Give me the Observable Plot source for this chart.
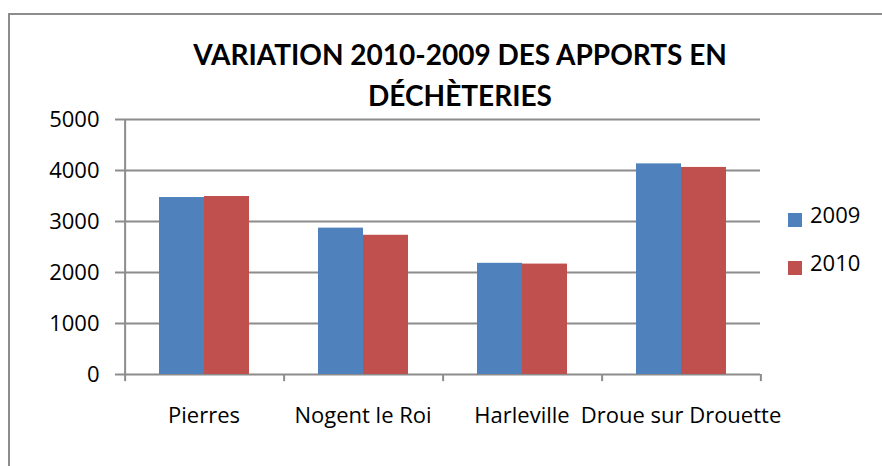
<!DOCTYPE html>
<html>
<head>
<meta charset="utf-8">
<script src="https://cdn.jsdelivr.net/npm/d3@7"></script>
<script src="https://cdn.jsdelivr.net/npm/@observablehq/plot@0.6"></script>
<style>
  html, body { margin: 0; padding: 0; background: #fff; }
  #wrap { position: relative; width: 882px; height: 466px; overflow: hidden; font-family: "Open Sans", Lato, sans-serif; }
  #frame { position: absolute; left: 8px; top: 13px; width: 900px; height: 500px; border: 2.5px solid #8c8c8c; box-sizing: border-box; }
  #chart { position: absolute; left: 0; top: 0; }
  #title { position: absolute; left: 160px; width: 600px; top: 34px; text-align: center; font-family: Lato, sans-serif; font-weight: bold; font-size: 28px; line-height: 41px; color: #000; }
  .leg { position: absolute; left: 788px; font-size: 22px; color: #000; }
  .leg span.sw { position: absolute; left: 0; width: 14px; height: 14px; }
  .leg span.lb { position: absolute; left: 22px; top: -14px; white-space: nowrap; }
</style>
</head>
<body>
<div id="wrap">
  <div id="frame"></div>
  <div id="chart"></div>
  <div id="title"></div>
  <div id="legend"></div>
</div>
<script>
const title = ["VARIATION 2010-2009 DES APPORTS EN", "DÉCHÈTERIES"];
const categories = ["Pierres", "Nogent le Roi", "Harleville", "Droue sur Drouette"];
const years = ["2009", "2010"];
const values2009 = [3470, 2870, 2180, 4130];
const values2010 = [3490, 2730, 2165, 4060];
const yTicks = [0, 1000, 2000, 3000, 4000, 5000];
const colors = ["#4F81BD", "#C0504D"];

const data = [];
categories.forEach((c, i) => {
  data.push({cat: c, year: years[0], value: values2009[i]});
  data.push({cat: c, year: years[1], value: values2010[i]});
});

const W = 882, H = 466;
const mL = 123, mR = 122, mT = 119, mB = 92;
const facetW = (W - mL - mR) / categories.length;
const step = facetW / 3.5;
const edge = 0.75 * step + step / 2;
const gray = "#8c8c8c";

const first = data.filter(d => d.year === years[0]);
const last = data.filter(d => d.year === years[1] && d.cat === categories[categories.length - 1]);

const plot = Plot.plot({
  width: W,
  height: H,
  marginLeft: mL,
  marginRight: mR,
  marginTop: mT,
  marginBottom: mB,
  style: {fontFamily: "'Open Sans', Lato, sans-serif", background: "transparent"},
  fx: {domain: categories, padding: 0, label: null},
  x: {domain: years, paddingInner: 0, paddingOuter: 0.75, axis: null},
  y: {domain: [0, 5000], label: null},
  color: {domain: years, range: colors},
  marks: [
    Plot.gridY(yTicks, {stroke: gray, strokeOpacity: 1, strokeWidth: 2}),
    Plot.barY(data, {fx: "cat", x: "year", y: "value", fill: "year"}),
    Plot.ruleX(first, {fx: "cat", x: "year", y1: 0, y2: -140, dx: -edge, stroke: gray, strokeWidth: 2}),
    Plot.ruleX(last, {fx: "cat", x: "year", y1: 0, y2: -140, dx: edge, stroke: gray, strokeWidth: 2}),
    Plot.ruleX(first.slice(0, 1), {fx: "cat", x: "year", y1: 0, y2: 5000, dx: -edge, stroke: gray, strokeWidth: 2}),
    Plot.axisY(yTicks, {tickSize: 9, tickPadding: 16, stroke: gray, strokeWidth: 2, fill: "#000", fontSize: 22, tickFormat: d => String(d), label: null}),
    Plot.axisFx({anchor: "bottom", tickSize: 0, tickPadding: 33, fill: "#000", fontSize: 22, label: null})
  ]
});
document.getElementById("chart").appendChild(plot);

document.getElementById("title").innerHTML = title.map(t => `<div>${t}</div>`).join("");

const leg = document.getElementById("legend");
years.forEach((y, i) => {
  const d = document.createElement("div");
  d.className = "leg";
  d.style.top = (213 + i * 48) + "px";
  d.innerHTML = `<span class="sw" style="background:${colors[i]}"></span><span class="lb">${y}</span>`;
  leg.appendChild(d);
});
</script>
</body>
</html>
